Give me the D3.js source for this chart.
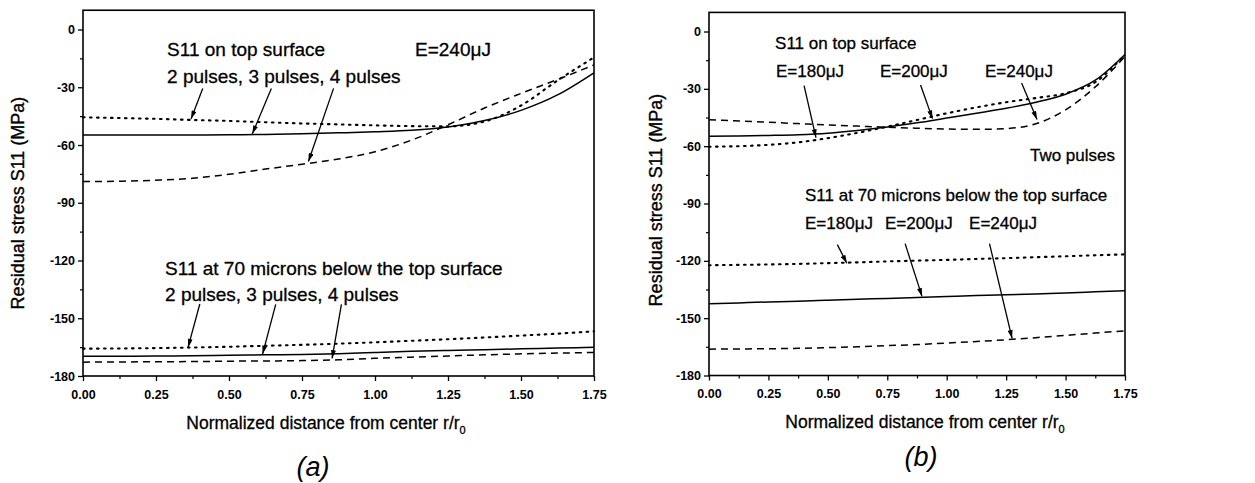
<!DOCTYPE html>
<html><head><meta charset="utf-8">
<script src="https://cdn.jsdelivr.net/npm/d3@7/dist/d3.min.js"></script>
<style>
body{margin:0;background:#fff}
svg{display:block}
text{font-family:"Liberation Sans",Arial,Helvetica,sans-serif;fill:#000}
</style>
</head><body>
<svg id="c" width="1255" height="483"></svg>
<script>
// ---------------- data ----------------
const rGrid = [0,0.125,0.25,0.375,0.5,0.625,0.75,0.875,1.0,1.125,1.25,1.375,1.5,1.625,1.75];

// panel (a): E=240uJ, 2/3/4 pulses
const aTop2 = [-45.6,-46.0,-46.4,-47.0,-47.5,-48.2,-48.8,-49.3,-49.8,-50.2,-50.3,-47.8,-39.5,-26.5,-14.5];
const aTop3 = [-54.8,-54.8,-54.8,-54.8,-54.7,-54.5,-54.2,-53.7,-53.1,-52.3,-50.6,-47.3,-42.0,-34.0,-22.5];
const aTop4 = [-79.0,-78.8,-78.3,-77.3,-75.2,-72.5,-70.0,-67.3,-63.5,-57.5,-49.5,-40.8,-33.2,-26.0,-18.4];
const aSub2 = [-165.8,-165.7,-165.5,-165.2,-164.8,-164.3,-163.8,-163.2,-162.5,-161.7,-160.9,-160.0,-159.0,-158.0,-156.8];
const aSub3 = [-169.7,-169.7,-169.6,-169.5,-169.2,-169.0,-168.8,-168.4,-167.8,-167.2,-166.7,-166.3,-165.9,-165.5,-165.1];
const aSub4 = [-172.8,-172.7,-172.6,-172.5,-172.3,-172.2,-172.0,-171.6,-170.8,-170.2,-169.6,-169.0,-168.5,-168.1,-167.8];

// panel (b): two pulses, E=180/200/240uJ
const bTop180 = [-60.3,-60.0,-59.3,-58.0,-55.8,-53.0,-49.8,-46.3,-42.8,-39.7,-37.0,-34.8,-32.3,-26.5,-12.0];
const bTop200 = [-54.8,-54.7,-54.4,-54.0,-53.2,-51.8,-50.0,-47.8,-45.3,-42.8,-40.2,-37.0,-32.8,-25.5,-12.0];
const bTop240 = [-46.2,-46.8,-47.5,-48.2,-48.9,-49.5,-50.1,-50.6,-51.0,-51.2,-50.8,-48.3,-41.0,-29.0,-13.0];
const bSub180 = [-122.3,-122.1,-121.9,-121.6,-121.2,-120.8,-120.3,-119.9,-119.5,-119.0,-118.6,-118.1,-117.6,-117.1,-116.6];
const bSub200 = [-142.5,-142.0,-141.5,-141.1,-140.6,-140.1,-139.7,-139.2,-138.7,-138.2,-137.8,-137.3,-136.8,-136.2,-135.6];
const bSub240 = [-166.2,-166.1,-166.0,-165.8,-165.4,-165.0,-164.4,-163.8,-163.0,-162.2,-161.3,-160.2,-159.0,-157.8,-156.6];

// axes
const yTicks = [-180,-150,-120,-90,-60,-30,0];
const yTickLabels = ["-180","-150","-120","-90","-60","-30","0"];
const yMinor = [-165,-135,-105,-75,-45,-15];
const xTicks = [0,0.25,0.5,0.75,1.0,1.25,1.5,1.75];
const xTickLabels = ["0.00","0.25","0.50","0.75","1.00","1.25","1.50","1.75"];
const xMinor = [0.125,0.375,0.625,0.875,1.125,1.375,1.625];

const yTitle = "Residual stress S11 (MPa)";
const xTitle = "Normalized distance from center r/r";

// ---------------- drawing ----------------
const svg = d3.select("#c");
svg.append("defs").append("marker")
  .attr("id","ah").attr("viewBox","0 0 10 6").attr("refX",10).attr("refY",3)
  .attr("markerWidth",9).attr("markerHeight",5).attr("markerUnits","userSpaceOnUse")
  .attr("orient","auto")
  .append("path").attr("d","M0,0L10,3L0,6Z").attr("fill","#000");

const styles = {
  dot:  {w:2.1, dash:"1.6,5.4", cap:"round"},
  solid:{w:1.5, dash:null, cap:"butt"},
  dash: {w:1.5, dash:"7,5", cap:"butt"}
};

function heavy(sel, w){ return sel.attr("stroke","#000").attr("stroke-width",w).attr("paint-order","stroke"); }

function panel(p){
  const x = d3.scaleLinear().domain([0,1.75]).range([p.x0,p.x1]);
  const y = d3.scaleLinear().domain([-180,10]).range([p.yB,p.yT]);
  const g = svg.append("g");

  // curves
  const line = d3.line().x(d=>x(d[0])).y(d=>y(d[1])).curve(d3.curveMonotoneX);
  p.series.forEach(s=>{
    const st = styles[s.style];
    g.append("path").datum(rGrid.map((r,i)=>[r,s.values[i]]))
      .attr("d",line).attr("fill","none").attr("stroke","#000")
      .attr("stroke-width",st.w).attr("stroke-dasharray",st.dash)
      .attr("stroke-linecap",st.cap);
  });

  // frame
  g.append("rect").attr("x",p.x0).attr("y",y(10)).attr("width",p.x1-p.x0)
    .attr("height",y(-180)-y(10)).attr("fill","none").attr("stroke","#000").attr("stroke-width",1.6);

  // y axis
  const ya = g.append("g").attr("transform",`translate(${p.x0},0)`)
    .call(d3.axisLeft(y).tickValues(yTicks).tickSize(5).tickPadding(3)
      .tickFormat((d,i)=>yTickLabels[i]));
  ya.select(".domain").remove();
  ya.selectAll("line").attr("stroke-width",1.3);
  ya.selectAll("text").attr("font-family","Liberation Sans, Arial, sans-serif")
    .attr("font-size",12.5).attr("font-weight","bold");
  const ym = g.append("g").attr("transform",`translate(${p.x0},0)`)
    .call(d3.axisLeft(y).tickValues(yMinor).tickSize(3).tickFormat(""));
  ym.select(".domain").remove();
  ym.selectAll("line").attr("stroke-width",1.2);

  // x axis
  const xa = g.append("g").attr("transform",`translate(0,${y(-180)})`)
    .call(d3.axisBottom(x).tickValues(xTicks).tickSize(5).tickPadding(9)
      .tickFormat((d,i)=>xTickLabels[i]));
  xa.select(".domain").remove();
  xa.selectAll("line").attr("stroke-width",1.3);
  xa.selectAll("text").attr("font-family","Liberation Sans, Arial, sans-serif")
    .attr("font-size",12.5).attr("font-weight","bold");
  const xm = g.append("g").attr("transform",`translate(0,${y(-180)})`)
    .call(d3.axisBottom(x).tickValues(xMinor).tickSize(3).tickFormat(""));
  xm.select(".domain").remove();
  xm.selectAll("line").attr("stroke-width",1.2);

  // axis titles
  heavy(g.append("text").attr("transform",`translate(${p.yTitleX},${p.yTitleY}) rotate(-90)`)
    .attr("text-anchor","middle").attr("font-size",18).text(yTitle), 0.35);
  const xt = heavy(g.append("text").attr("x",p.xTitleX).attr("y",p.xTitleY)
    .attr("text-anchor","middle").attr("font-size",17.5).text(xTitle), 0.3);
  xt.append("tspan").attr("font-size",11).attr("dy",5).text("0");

  // panel letter
  g.append("text").attr("x",p.letterX).attr("y",p.letterY).attr("text-anchor","middle")
    .attr("font-size",27).attr("font-style","italic").text(p.letter);

  // annotations
  p.labels.forEach(l=>{
    heavy(g.append("text").attr("x",x(l.r)).attr("y",y(l.v))
      .attr("text-anchor",l.anchor||"start").attr("font-size",p.fs).text(l.t), 0.3);
  });
  p.arrows.forEach(a=>{
    g.append("line").attr("x1",x(a[0])).attr("y1",y(a[1])).attr("x2",x(a[2])).attr("y2",y(a[3]))
      .attr("stroke","#000").attr("stroke-width",1.3).attr("marker-end","url(#ah)");
  });
}

panel({
  x0:83, x1:594, yB:376, yT:10.25,
  series:[{values:aTop2,style:"dot"},{values:aTop3,style:"solid"},{values:aTop4,style:"dash"},
          {values:aSub2,style:"dot"},{values:aSub3,style:"solid"},{values:aSub4,style:"dash"}],
  yTitleX:24, yTitleY:203, xTitleX:326, xTitleY:429,
  letter:"(a)", letterX:313, letterY:476, fs:19,
  labels:[
    {t:"S11 on top surface", r:0.288, v:-13.8},
    {t:"E=240\u03bcJ", r:1.137, v:-13.8},
    {t:"2 pulses, 3 pulses, 4 pulses", r:0.288, v:-27.8},
    {t:"S11 at 70 microns below the top surface", r:0.281, v:-127.5},
    {t:"2 pulses, 3 pulses, 4 pulses", r:0.281, v:-141.0}
  ],
  arrows:[
    [0.41,-30.6,0.37,-46.5],[0.645,-30.6,0.58,-54.2],[0.858,-30.6,0.772,-68.6],
    [0.40,-142.6,0.36,-165.0],[0.66,-142.8,0.615,-168.6],[0.885,-142.8,0.853,-170.9]
  ]
});

panel({
  x0:709, x1:1125, yB:375.5, yT:12.4,
  series:[{values:bTop180,style:"dot"},{values:bTop200,style:"solid"},{values:bTop240,style:"dash"},
          {values:bSub180,style:"dot"},{values:bSub200,style:"solid"},{values:bSub240,style:"dash"}],
  yTitleX:662, yTitleY:200, xTitleX:925, xTitleY:428,
  letter:"(b)", letterX:921, letterY:466, fs:17,
  labels:[
    {t:"S11 on top surface", r:0.278, v:-9.2},
    {t:"E=180\u03bcJ", r:0.282, v:-23.8},
    {t:"E=200\u03bcJ", r:0.719, v:-23.8},
    {t:"E=240\u03bcJ", r:1.161, v:-23.8},
    {t:"Two pulses", r:1.708, v:-67.8, anchor:"end"},
    {t:"S11 at 70 microns below the top surface", r:0.404, v:-88.7},
    {t:"E=180\u03bcJ", r:0.404, v:-103.3},
    {t:"E=200\u03bcJ", r:0.740, v:-103.3},
    {t:"E=240\u03bcJ", r:1.094, v:-103.3}
  ],
  arrows:[
    [0.40,-28.3,0.45,-55.5],[0.89,-28.0,0.94,-45.6],[1.315,-27.0,1.38,-46.0],
    [0.54,-111.5,0.58,-121.3],[0.825,-111.0,0.896,-138.6],[1.18,-111.0,1.275,-160.6]
  ]
});
</script>
</body></html>
